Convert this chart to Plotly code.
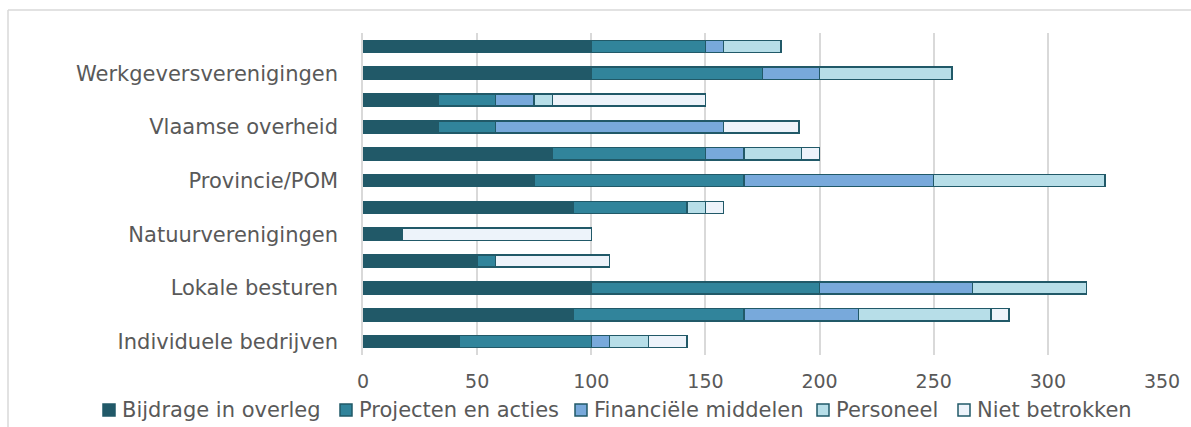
import plotly.graph_objects as go

# Rows from top to bottom; each organisation type has two bars, the label sits on the second one
row_labels = ["", "Werkgeversverenigingen",
              "", "Vlaamse overheid",
              "", "Provincie/POM",
              "", "Natuurverenigingen",
              "", "Lokale besturen",
              "", "Individuele bedrijven"]

series_names = ["Bijdrage in overleg", "Projecten en acties", "Financiële middelen",
                "Personeel", "Niet betrokken"]

bijdrage = [100, 100, 33, 33, 83, 75, 92, 17, 50, 100, 92, 42]
projecten = [50, 75, 25, 25, 67, 92, 50, 0, 8, 100, 75, 58]
financieel = [8, 25, 17, 100, 17, 83, 0, 0, 0, 67, 50, 8]
personeel = [25, 58, 8, 0, 25, 75, 8, 0, 0, 50, 58, 17]
niet_betrokken = [0, 0, 67, 33, 8, 0, 8, 83, 50, 0, 8, 17]

values = [bijdrage, projecten, financieel, personeel, niet_betrokken]
fills = ["#215968", "#31849B", "#78A9DB", "#B7DEE8", "#EDF3FA"]
edge = "#215968"

x_ticks = [0, 50, 100, 150, 200, 250, 300, 350]

positions = list(range(len(row_labels)))
font_family = "DejaVu Sans"
text_color = "#595959"
grid_color = "#D9D9D9"

# Figure geometry (pixels)
W, H = 1191, 427
M_L, M_R, M_T, M_B = 363, 29, 33, 72
PW, PH = W - M_L - M_R, H - M_T - M_B


def fx(px):
    """Pixel column -> paper x."""
    return (px - M_L) / PW


def fy(py):
    """Pixel row -> paper y."""
    return (H - M_B - py) / PH


fig = go.Figure()
for name, vals, col in zip(series_names, values, fills):
    fig.add_trace(go.Bar(
        y=positions, x=vals, name=name, orientation="h",
        marker=dict(color=col, line=dict(color=edge, width=1.5)),
        width=0.45, showlegend=False,
    ))

# Legend row below the axis: swatch + label for each series
legend_swatch_left = [103, 340, 575, 817, 958]
legend_mid_y = 410
swatch = 12
shapes = []
annotations = []
for name, col, left in zip(series_names, fills, legend_swatch_left):
    shapes.append(dict(type="rect", xref="paper", yref="paper",
                       x0=fx(left), x1=fx(left + swatch),
                       y0=fy(legend_mid_y + swatch / 2), y1=fy(legend_mid_y - swatch / 2),
                       fillcolor=col, line=dict(color=edge, width=1.5)))
    annotations.append(dict(xref="paper", yref="paper", x=fx(left + swatch + 5),
                            y=fy(legend_mid_y), text=name, showarrow=False,
                            xanchor="left", yanchor="middle",
                            font=dict(family=font_family, size=21, color=text_color)))

# Chart-area border (top and left edges)
shapes += [
    dict(type="line", xref="paper", yref="paper",
         x0=fx(8), x1=fx(W + 10), y0=fy(10), y1=fy(10),
         line=dict(color=grid_color, width=1.5)),
    dict(type="line", xref="paper", yref="paper",
         x0=fx(8), x1=fx(8), y0=fy(10), y1=fy(H + 10),
         line=dict(color=grid_color, width=1.5)),
]

fig.update_layout(
    barmode="stack",
    width=W, height=H,
    margin=dict(l=M_L, r=M_R, t=M_T, b=M_B, autoexpand=False),
    paper_bgcolor="white", plot_bgcolor="white",
    font=dict(family=font_family, size=21, color=text_color),
    showlegend=False,
    xaxis=dict(range=[0, 350], tickvals=x_ticks, showgrid=True,
               gridcolor=grid_color, gridwidth=1.5, zeroline=False,
               showline=False, ticks="", ticklabelstandoff=13,
               tickfont=dict(size=19)),
    yaxis=dict(range=[len(row_labels) - 0.5, -0.5], tickvals=positions,
               ticktext=row_labels, showgrid=False, zeroline=False,
               showline=True, linecolor=grid_color, linewidth=1.5,
               ticks="", ticklabelstandoff=19, tickfont=dict(size=21)),
    shapes=shapes,
    annotations=annotations,
)

fig.write_html("out.html")
